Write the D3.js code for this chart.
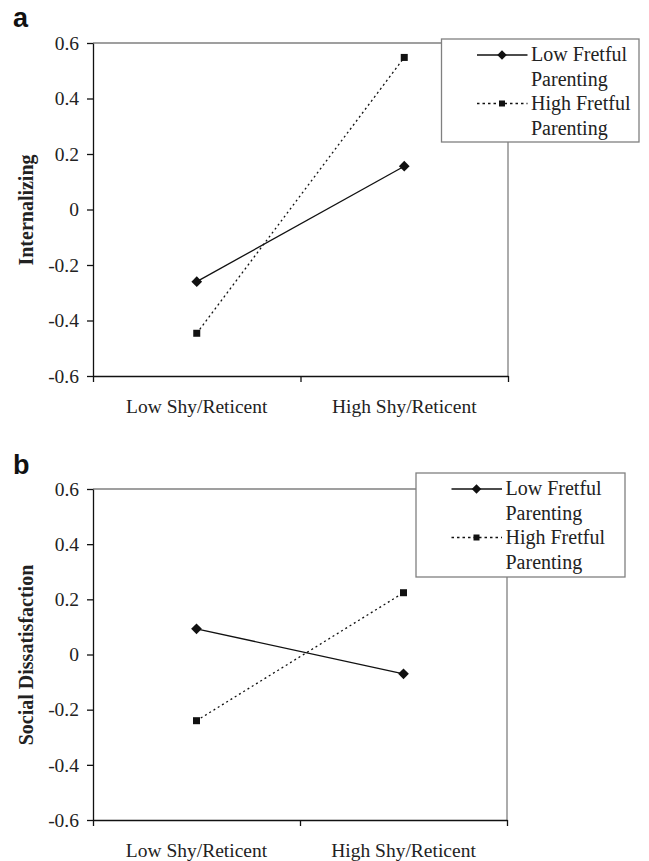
<!DOCTYPE html>
<html>
<head>
<meta charset="utf-8">
<script src="https://cdn.jsdelivr.net/npm/d3@7/dist/d3.min.js"></script>
<style>
  html, body { margin: 0; padding: 0; background: #fff; }
  svg { display: block; }
  svg text.serif { font-family: "Liberation Serif", "Times New Roman", serif; }
</style>
</head>
<body>
<svg id="chart" width="649" height="861"></svg>
<script>
// ---- Data ----
const categories = ["Low Shy/Reticent", "High Shy/Reticent"];
const seriesNames = ["Low Fretful Parenting", "High Fretful Parenting"];
const legendLines = [["Low Fretful", "Parenting"], ["High Fretful", "Parenting"]];
const yTicks = [-0.6, -0.4, -0.2, 0, 0.2, 0.4, 0.6];
const yTickLabels = ["-0.6", "-0.4", "-0.2", "0", "0.2", "0.4", "0.6"];

const internalizingLow = [-0.26, 0.156];
const internalizingHigh = [-0.446, 0.548];
const socialLow = [0.093, -0.07];
const socialHigh = [-0.24, 0.224];

const panels = [
  { letter: "a", title: "Internalizing", series: [internalizingLow, internalizingHigh],
    left: 93, right: 508, top: 43, bottom: 376, titleY: 210,
    legend: { x: 441.5, y: 39, w: 197.5, h: 103 }, letterY: 27 },
  { letter: "b", title: "Social Dissatisfaction", series: [socialLow, socialHigh],
    left: 93, right: 507, top: 489, bottom: 820, titleY: 655,
    legend: { x: 416, y: 473, w: 209, h: 104 }, letterY: 474 }
];

const svg = d3.select("#chart");
const serif = "Liberation Serif, Times New Roman, serif";
const ink = "#111";
const dashes = [null, "2,3"];

function serifText(sel, size) {
  return sel.attr("class", "serif")
    .attr("font-family", serif)
    .style("font-family", serif)
    .style("font-size", size)
    .attr("fill", "#222");
}

function marker(g, type, x, y, s) {
  if (type === 0) {
    g.append("path")
      .attr("d", d3.symbol().type(d3.symbolDiamond2).size(s * s * 0.9)())
      .attr("transform", `translate(${x},${y})`)
      .attr("fill", ink);
  } else {
    g.append("rect")
      .attr("x", x - s / 2).attr("y", y - s / 2)
      .attr("width", s).attr("height", s)
      .attr("fill", ink);
  }
}

panels.forEach(p => {
  const g = svg.append("g");
  const y = d3.scaleLinear().domain([-0.6, 0.6]).range([p.bottom, p.top]);
  const xBand = d3.scaleBand().domain(categories).range([p.left, p.right]);
  const xEdge = d3.scaleLinear().domain([0, categories.length]).range([p.left, p.right]);

  // plot area border (top & right, grey)
  g.append("path")
    .attr("d", `M${p.left},${p.top}H${p.right}V${p.bottom}`)
    .attr("fill", "none").attr("stroke", "#808080").attr("stroke-width", 1.3);

  // y axis
  const yAxis = g.append("g")
    .attr("transform", `translate(${p.left},0)`)
    .call(d3.axisLeft(y).tickValues(yTicks)
      .tickFormat((d, i) => yTickLabels[i]).tickSize(6).tickPadding(8).tickSizeOuter(0));
  yAxis.attr("font-family", null).attr("font-size", null);
  yAxis.selectAll("path,line").attr("stroke", ink).attr("stroke-width", 1.3);
  serifText(yAxis.selectAll("text"), "19.5px");

  // x axis ticks at band edges
  const xAxis = g.append("g")
    .attr("transform", `translate(0,${p.bottom})`)
    .call(d3.axisBottom(xEdge).tickValues(d3.range(categories.length + 1))
      .tickFormat("").tickSize(6).tickSizeOuter(0));
  xAxis.selectAll("path,line").attr("stroke", ink).attr("stroke-width", 1.3);

  // x labels at band centers
  const xLab = g.append("g")
    .attr("transform", `translate(0,${p.bottom})`)
    .call(d3.axisBottom(xBand).tickSize(0).tickPadding(23));
  xLab.attr("font-family", null).attr("font-size", null);
  xLab.select(".domain").remove();
  serifText(xLab.selectAll("text"), "19.5px");

  // y title
  serifText(g.append("text"), "20px")
    .attr("transform", `translate(33,${p.titleY}) rotate(-90)`)
    .attr("text-anchor", "middle")
    .style("font-weight", "bold")
    .text(p.title);

  // panel letter
  g.append("text")
    .attr("x", 13).attr("y", p.letterY)
    .style("font-family", "Liberation Sans, Arial, sans-serif")
    .style("font-weight", "bold").style("font-size", "27px").attr("fill", "#111")
    .text(p.letter);

  // series
  const cx = c => xBand(c) + xBand.bandwidth() / 2;
  p.series.forEach((vals, si) => {
    const line = d3.line().x((d, i) => cx(categories[i])).y(d => y(d));
    g.append("path")
      .attr("d", line(vals))
      .attr("fill", "none").attr("stroke", ink).attr("stroke-width", 1.3)
      .attr("stroke-dasharray", dashes[si]);
    vals.forEach((v, i) => marker(g, si, cx(categories[i]), y(v), si === 0 ? 9 : 7));
  });

  // legend
  const L = p.legend;
  const lg = g.append("g");
  lg.append("rect")
    .attr("x", L.x).attr("y", L.y).attr("width", L.w).attr("height", L.h)
    .attr("fill", "#fff").attr("stroke", "#808080").attr("stroke-width", 1.3);
  const rowY = [16, 64.5];
  const baseY = [[21.5, 47], [70.5, 95.5]];
  seriesNames.forEach((name, si) => {
    const ly = L.y + rowY[si];
    lg.append("line")
      .attr("x1", L.x + 35.5).attr("x2", L.x + 86)
      .attr("y1", ly).attr("y2", ly)
      .attr("stroke", ink).attr("stroke-width", 1.3)
      .attr("stroke-dasharray", si === 1 ? "2.5,3" : null);
    marker(lg, si, L.x + 60.5, ly, si === 0 ? 8 : 6);
    legendLines[si].forEach((t, k) => {
      serifText(lg.append("text"), "20px")
        .attr("x", L.x + 89.5).attr("y", L.y + baseY[si][k])
        .text(t);
    });
  });
});
</script>
</body>
</html>
